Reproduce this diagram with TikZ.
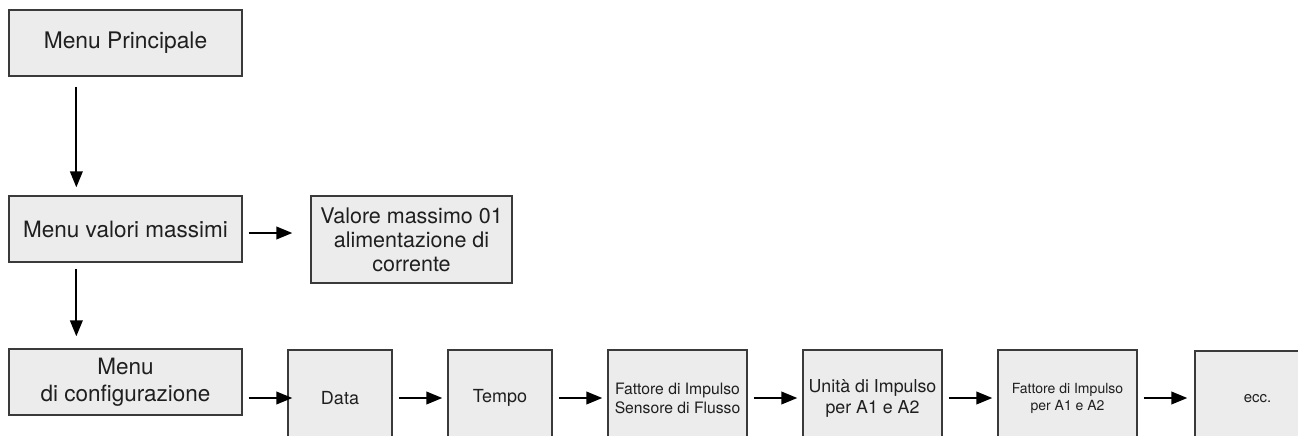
\documentclass[tikz,border=0pt]{standalone}
\usepackage{fontspec}
\setmainfont{TeX Gyre Heros}
\usetikzlibrary{arrows.meta,calc}
\definecolor{boxfill}{HTML}{ECECEC}
\definecolor{boxline}{HTML}{3A3A3A}
\tikzset{
  box/.style={draw=boxline, line width=1.3pt, fill=boxfill, inner sep=0pt, align=center, text=black!88},
  arr/.style={line width=2.2pt, -{Triangle[length=16pt,width=12.5pt]}},
}
\begin{document}
\begin{tikzpicture}[x=1pt,y=-1pt]
\clip (0,0) rectangle (1298,436);
\fill[white] (0,0) rectangle (1298,436);
% top column
\node[box, minimum width=233pt, minimum height=66pt, font=\fontsize{22.8}{27}\selectfont] (mp) at (125.5,43) {Menu Principale};
\node[box, minimum width=233pt, minimum height=66pt, font=\fontsize{22.5}{27}\selectfont] (vm) at (125.5,229) {Menu valori massimi};
\node[box, minimum width=201pt, minimum height=87pt, font=\fontsize{21.5}{24}\selectfont] (vv) at (411.5,239.5) {Valore massimo 01\\alimentazione di\\corrente};
\node[box, minimum width=233pt, minimum height=66pt, font=\fontsize{22.5}{27}\selectfont] (cfg) at (125.5,382) {Menu\\di configurazione};
% bottom row
\node[box, minimum width=104pt, minimum height=96pt, font=\fontsize{18}{21}\selectfont] (data) at (340,398) {Data};
\node[box, minimum width=104pt, minimum height=96pt, font=\fontsize{18}{21}\selectfont] (tempo) at (500,398) {Tempo};
\node[box, minimum width=139pt, minimum height=96pt, font=\fontsize{15.7}{19}\selectfont] (sens) at (677.5,398) {Fattore di Impulso\\Sensore di Flusso};
\node[box, minimum width=139pt, minimum height=96pt, font=\fontsize{17.8}{21}\selectfont] (unit) at (872.5,398) {Unità di Impulso\\per A1 e A2};
\node[box, minimum width=139pt, minimum height=96pt, font=\fontsize{14}{17}\selectfont] (fatt) at (1067.5,398) {Fattore di Impulso\\per A1 e A2};
\node[box, minimum width=125pt, minimum height=96pt, font=\fontsize{15}{18}\selectfont] (ecc) at (1257.5,399) {ecc.};
% connectors
\draw[arr, shorten <=10pt, shorten >=8pt] ($(mp.south west)+(68,0)$) -- ($(vm.north west)+(68,0)$);
\draw[arr, shorten <=6pt, shorten >=12pt] ($(vm.south west)+(68,0)$) -- ($(cfg.north west)+(68,0)$);
\draw[arr, shorten <=6pt, shorten >=18pt] ([yshift=-4pt]vm.east) -- ([yshift=-4pt]vm.east -| vv.west);
\draw[arr, shorten <=6pt, shorten >=-5pt] (cfg.east |- data.west) -- (data.west);
\draw[arr, shorten <=6pt, shorten >=5pt] (data.east) -- (tempo.west);
\draw[arr, shorten <=6pt, shorten >=5pt] (tempo.east) -- (sens.west);
\draw[arr, shorten <=6pt, shorten >=5pt] (sens.east) -- (unit.west);
\draw[arr, shorten <=6pt, shorten >=5pt] (unit.east) -- (fatt.west);
\draw[arr, shorten <=6pt, shorten >=7pt] (fatt.east) -- (fatt.east -| ecc.west);
\end{tikzpicture}
\end{document}
